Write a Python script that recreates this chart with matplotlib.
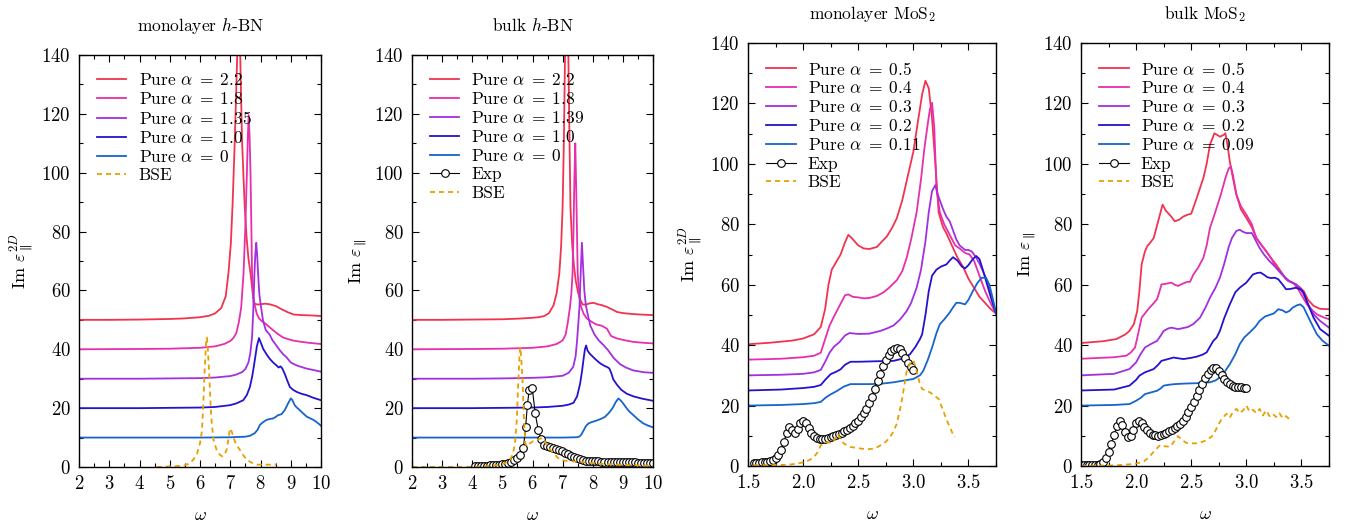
import numpy as np
import matplotlib
matplotlib.use('Agg')
import matplotlib.pyplot as plt
from matplotlib.ticker import MultipleLocator

plt.rcParams['font.family'] = 'serif'
plt.rcParams['font.serif'] = ['cmr10']
plt.rcParams['mathtext.fontset'] = 'cm'
plt.rcParams['axes.formatter.use_mathtext'] = True

# colours of the five "Pure" curves (largest alpha first), BSE
colors = ['#f2334f', '#e52fae', '#a22fe0', '#2512cf', '#1664cc']
bse_color = '#e8a000'

''' monolayer h-BN '''
hbn1_labels = ['2.2', '1.8', '1.35', '1.0', '0']
hbn1_x = [
    [2, 3, 4, 5, 5.5, 6, 6.3, 6.5, 6.7, 6.85, 6.94, 7.02, 7.08, 7.14, 7.19, 7.23, 7.27, 7.3, 7.33, 7.36,
     7.39, 7.44, 7.48, 7.54, 7.6, 7.67, 7.78, 7.9, 8.0, 8.15, 8.3, 8.5, 8.7, 8.9, 9.1, 9.4, 9.7, 10],
    [2, 4, 5, 6, 6.5, 6.8, 7.0, 7.1, 7.2, 7.28, 7.36, 7.44, 7.5, 7.55, 7.58, 7.61, 7.64, 7.67, 7.7, 7.72,
     7.76, 7.82, 7.88, 7.95, 8.05, 8.15, 8.3, 8.45, 8.6, 8.75, 8.9, 9.06, 9.3, 9.6, 10],
    [2, 4, 5, 6, 6.5, 7.0, 7.2, 7.4, 7.5, 7.6, 7.66, 7.72, 7.76, 7.8, 7.83, 7.86, 7.89, 7.92, 7.96, 8.0,
     8.08, 8.17, 8.3, 8.4, 8.53, 8.65, 8.75, 8.86, 9.0, 9.2, 9.5, 10],
    [2, 4, 5, 6, 6.5, 6.99, 7.2, 7.43, 7.55, 7.65, 7.73, 7.81, 7.88, 7.95, 8.02, 8.09, 8.2, 8.31, 8.42, 8.53,
     8.6, 8.66, 8.72, 8.8, 8.88, 8.97, 9.08, 9.2, 9.35, 9.53, 9.75, 10],
    [2, 4, 6, 7, 7.5, 7.65, 7.81, 7.9, 7.98, 8.08, 8.2, 8.3, 8.42, 8.5, 8.58, 8.65, 8.7, 8.8, 8.86, 8.91,
     8.96, 9.0, 9.05, 9.13, 9.2, 9.3, 9.4, 9.53, 9.65, 9.75, 9.85, 9.97, 10],
]
hbn1_y = [
    [50, 50, 50.1, 50.3, 50.5, 50.9, 51.4, 52.2, 54, 58, 65.8, 76, 90, 108, 125, 140, 150, 152, 140, 125,
     111, 98, 88.4, 78, 71, 65.8, 55.6, 55.2, 55.3, 55.5, 55.3, 54.7, 53.6, 52.6, 51.8, 51.6, 51.5, 51.3],
    [40, 40.1, 40.2, 40.5, 41, 41.8, 42.8, 43.8, 45.5, 49, 54, 66, 82, 99.8, 112, 119.6, 112, 99.8, 80, 66,
     58, 54.5, 52, 50.5, 49.5, 48.8, 47.5, 46.2, 45, 44, 43.5, 43, 42.6, 42.2, 41.8],
    [30, 30, 30.1, 30.2, 30.4, 30.9, 31.4, 32.3, 33.3, 35.5, 38.5, 44, 53, 65.8, 72.5, 76.2, 72, 65.8, 59, 55.6,
     50, 46.6, 45, 43, 41.2, 39.5, 38.3, 37.3, 35.5, 34.5, 33.5, 32.4],
    [20, 20, 20.1, 20.2, 20.4, 21, 21.6, 22.7, 24.5, 27.2, 31, 36.2, 41, 43.8, 42, 40.1, 38.3, 36.7, 35.5, 34.5,
     33.8, 34.2, 33.5, 31.7, 29.5, 27.2, 26.2, 25.5, 24.9, 24.4, 23.5, 22.7],
    [10, 10, 10, 10.1, 10.3, 10.6, 11.5, 12.6, 14.3, 15.2, 16, 16.3, 16.5, 17, 17.6, 17.8, 18, 19.3, 20.5, 21.6,
     22.5, 23.3, 22.8, 21, 20.2, 19.3, 18.3, 17.1, 16.5, 16, 15.3, 14.3, 14],
]
hbn1_bse_x = [4.57, 5.0, 5.45, 5.65, 5.78, 5.9, 6.0, 6.06, 6.1, 6.15, 6.2, 6.23, 6.26, 6.31, 6.35, 6.39, 6.45,
              6.55, 6.65, 6.74, 6.81, 6.88, 6.94, 6.99, 7.05, 7.1, 7.16, 7.24, 7.32, 7.43, 7.54, 7.7, 7.87, 8.2, 8.53]
hbn1_bse_y = [0, 0.2, 0.4, 1.2, 2.5, 4.5, 8.1, 12, 19.3, 32, 42, 44, 40, 30.6, 21, 14.8, 9,
              5.8, 4.2, 3.6, 4.2, 5.8, 9.5, 13.1, 12, 10.3, 8.5, 7, 5.8, 4, 2.5, 1.5, 0.8, 0.8, 0.8]

''' bulk h-BN '''
hbn2_labels = ['2.2', '1.8', '1.39', '1.0', '0']
hbn2_x = [
    [2, 3, 4, 5, 5.5, 6, 6.2, 6.39, 6.55, 6.7, 6.8, 6.89, 6.95, 7.0, 7.04, 7.08, 7.12, 7.15, 7.19, 7.23,
     7.26, 7.32, 7.38, 7.44, 7.52, 7.6, 7.67, 7.78, 7.89, 8.02, 8.17, 8.3, 8.47, 8.65, 8.8, 9.0, 9.3, 9.6, 10],
    [2, 4, 5, 6, 6.5, 6.8, 7.0, 7.1, 7.17, 7.24, 7.29, 7.33, 7.36, 7.39, 7.42, 7.45, 7.48, 7.5, 7.55, 7.61,
     7.7, 7.8, 7.94, 8.1, 8.3, 8.47, 8.61, 8.8, 9.0, 9.35, 9.7, 10],
    [2, 4, 5, 6, 6.5, 7.0, 7.2, 7.35, 7.43, 7.48, 7.53, 7.56, 7.6, 7.64, 7.68, 7.72, 7.77, 7.83, 7.92, 8.06,
     8.2, 8.35, 8.5, 8.7, 8.9, 9.1, 9.35, 9.7, 10],
    [2, 4, 5, 6, 6.5, 7.0, 7.2, 7.36, 7.48, 7.58, 7.65, 7.69, 7.74, 7.78, 7.83, 7.9, 7.96, 8.1, 8.25, 8.4,
     8.47, 8.55, 8.62, 8.68, 8.8, 8.95, 9.13, 9.35, 9.65, 10],
    [2, 4, 6, 7, 7.45, 7.55, 7.62, 7.7, 7.78, 7.86, 7.95, 8.1, 8.24, 8.4, 8.52, 8.6, 8.68, 8.76, 8.85, 8.93,
     9.01, 9.1, 9.2, 9.35, 9.5, 9.68, 9.85, 10],
]
hbn2_y = [
    [50, 50, 50.1, 50.2, 50.4, 50.7, 50.9, 51.3, 52.3, 55, 59, 65.8, 75, 88.4, 110, 140, 155, 150, 140, 110,
     88.4, 75, 68, 63, 59, 56.5, 55.2, 55.2, 55.6, 55.8, 55.3, 55, 54.4, 53.5, 52.7, 52.3, 52, 51.8, 51.6],
    [40, 40.1, 40.2, 40.5, 41, 41.8, 43, 45, 49, 54, 59, 65.8, 80, 98, 110, 95, 78, 65.8, 58, 54.5,
     52, 50.5, 49.5, 48.5, 48, 47, 44.5, 43.7, 43.2, 42.5, 42.2, 42],
    [30, 30, 30.1, 30.3, 30.5, 31, 32, 34, 37.5, 43, 50, 54.5, 66, 76.2, 68, 60, 55, 52, 48, 45,
     43, 41.5, 39.8, 37, 35, 33.8, 32.8, 32.2, 32],
    [20, 20, 20.1, 20.2, 20.4, 20.8, 21.2, 21.8, 24, 28.3, 33, 36.3, 40, 41.3, 39.5, 38.5, 37.9, 36.5, 35.2, 34.3,
     34, 33.5, 31.8, 29.8, 28, 26.2, 24.9, 24, 23.2, 22.5],
    [10, 10, 10, 10, 10.1, 10.3, 11, 12.5, 14, 14.8, 15.2, 15.7, 16.2, 17, 18.2, 19.2, 20.4, 22, 23.3, 22.6,
     21.6, 20.3, 19, 17.6, 16.2, 14.8, 14, 13.5],
]
hbn2_bse_x = [2, 3, 4.04, 4.5, 4.93, 5.1, 5.26, 5.35, 5.42, 5.48, 5.53, 5.57, 5.59, 5.62, 5.67, 5.72, 5.76,
              5.82, 5.92, 6.02, 6.14, 6.31, 6.4, 6.47, 6.58, 6.7, 6.8, 6.92, 7.1, 7.36, 7.8, 8.24, 9.0, 10]
hbn2_bse_y = [0, 0, 0, 0.3, 0.8, 1.4, 2.5, 4.5, 8.1, 16, 29.4, 38, 40.7, 38, 29.4, 16, 8.1,
              7, 8.1, 8.8, 9.2, 9.8, 9.1, 7.5, 6, 4.7, 3.5, 2.5, 2.1, 1.9, 1.5, 1.1, 0.7, 0.4]
hbn2_exp_x = [4.1, 4.2, 4.3, 4.4, 4.5, 4.6, 4.7, 4.8, 4.9, 5.0, 5.1, 5.2, 5.3, 5.4, 5.5, 5.6, 5.7,
              5.77, 5.83, 5.89,
              5.99, 6.09, 6.19, 6.29, 6.39, 6.49, 6.59, 6.69, 6.79, 6.89,
              6.99, 7.09, 7.19, 7.29, 7.39, 7.49, 7.59, 7.69, 7.79, 7.89,
              7.99, 8.09, 8.19, 8.29, 8.39, 8.49, 8.59, 8.69, 8.79, 8.89,
              8.99, 9.09, 9.19, 9.29, 9.39, 9.49, 9.59, 9.69, 9.79, 9.89, 9.99]
hbn2_exp_y = [0.4, 0.4, 0.4, 0.5, 0.5, 0.6, 0.6, 0.7, 0.8, 0.9, 1.1, 1.4, 1.8, 2.3, 3.0, 4.2, 6.5,
              13.5, 21.0, 26.3,
              27.0, 18.2, 12.6, 9.4, 7.6, 7.0, 6.8, 6.5, 6.2, 5.8,
              5.3, 4.8, 4.3, 3.8, 3.3, 2.9, 2.6, 2.4, 2.2, 2.1,
              2.0, 1.9, 1.9, 1.8, 1.8, 1.7, 1.7, 1.7, 1.7, 1.6,
              1.6, 1.6, 1.6, 1.6, 1.6, 1.5, 1.5, 1.5, 1.5, 1.5, 1.5]

''' monolayer MoS2 '''
mos1_labels = ['0.5', '0.4', '0.3', '0.2', '0.11']
mos1_x = [
    [1.5, 1.7, 1.9, 2.0, 2.1, 2.16, 2.2, 2.23, 2.26, 2.3, 2.34, 2.38, 2.41, 2.44, 2.5, 2.55, 2.6, 2.67, 2.72, 2.76,
     2.81, 2.85, 2.9, 2.95, 3.0, 3.05, 3.08, 3.11, 3.14, 3.17, 3.2, 3.23, 3.27, 3.3, 3.35, 3.4, 3.45, 3.5, 3.55,
     3.6, 3.65, 3.7, 3.75],
    [1.5, 1.8, 2.0, 2.1, 2.16, 2.2, 2.24, 2.28, 2.33, 2.38, 2.41, 2.45, 2.5, 2.55, 2.6, 2.67, 2.73, 2.78, 2.85,
     2.9, 2.94, 2.98, 3.03, 3.07, 3.1, 3.13, 3.15, 3.17, 3.19, 3.21, 3.24, 3.28, 3.33, 3.38, 3.42, 3.47, 3.51,
     3.55, 3.6, 3.65, 3.7, 3.75],
    [1.5, 1.8, 2.0, 2.1, 2.16, 2.2, 2.24, 2.28, 2.33, 2.38, 2.42, 2.5, 2.6, 2.7, 2.76, 2.82, 2.88, 2.94, 2.98,
     3.03, 3.07, 3.11, 3.14, 3.17, 3.2, 3.22, 3.24, 3.27, 3.3, 3.33, 3.36, 3.39, 3.42, 3.47, 3.5, 3.53, 3.57,
     3.6, 3.65, 3.7, 3.75],
    [1.5, 1.8, 2.0, 2.1, 2.16, 2.2, 2.25, 2.3, 2.34, 2.38, 2.43, 2.5, 2.6, 2.7, 2.82, 2.9, 2.97, 3.02, 3.06,
     3.08, 3.11, 3.14, 3.17, 3.21, 3.25, 3.3, 3.33, 3.36, 3.4, 3.44, 3.47, 3.5, 3.54, 3.57, 3.6, 3.63, 3.67,
     3.71, 3.75],
    [1.5, 1.8, 2.0, 2.1, 2.16, 2.2, 2.24, 2.31, 2.37, 2.43, 2.5, 2.6, 2.7, 2.82, 2.9, 3.0, 3.06, 3.09, 3.13,
     3.17, 3.21, 3.24, 3.28, 3.33, 3.36, 3.39, 3.42, 3.47, 3.5, 3.54, 3.58, 3.62, 3.66, 3.69, 3.72, 3.75],
]
mos1_y = [
    [40.3, 40.8, 41.5, 42.2, 43.6, 46, 52, 60, 65, 67.5, 70, 74, 76.5, 75.5, 73, 72, 71.8, 72.5, 74.5, 76,
     79, 82, 88, 96, 104, 116, 123, 127.5, 125, 115, 100, 83.8, 79, 77, 73, 69, 66, 62, 59,
     56, 54, 52, 50.5],
    [35.2, 35.5, 36, 36.5, 37.5, 42, 46.5, 49.5, 53, 56.5, 56.8, 56, 55.8, 55.5, 55.6, 56.3, 57.5, 59, 61.5,
     64.5, 69, 75, 84, 95, 105, 113, 118, 120.2, 112, 92, 84, 80, 76.5, 73, 72, 70.5, 70,
     68, 63, 58, 54, 50.5],
    [30, 30.2, 30.5, 31, 31.8, 34.5, 37.5, 39.5, 41, 43.2, 44, 43.7, 43.8, 44.7, 45.5, 46.5, 48.5, 51.3, 54,
     59, 65, 74.4, 84, 91, 93, 90, 88, 85, 82.5, 81, 78, 75, 73, 71.5, 71.5, 71, 69,
     67, 63, 57, 50.5],
    [25, 25.3, 25.8, 26.2, 26.8, 28.5, 30.4, 31.2, 32, 33.5, 34.5, 34.5, 34.6, 34.7, 34.8, 35.5, 37, 39.5, 42,
     43.6, 50, 57.9, 63, 65, 66, 66.7, 68, 69.1, 68, 66, 65.4, 66.5, 68.5, 69.5, 68.5, 65, 60,
     55, 50.5],
    [20, 20.2, 20.5, 20.8, 21.2, 22.5, 23.5, 24.9, 26.3, 27.1, 27.1, 27.1, 27.2, 27.7, 28.2, 28.8, 30, 31.5, 35,
     39.2, 44, 46.9, 48.5, 50.8, 52.5, 54, 54, 53.5, 55, 57.9, 60.5, 62.3, 62.3, 60, 55.5, 50.5],
]
mos1_bse_x = [1.55, 1.7, 1.86, 1.95, 2.01, 2.06, 2.1, 2.13, 2.16, 2.19, 2.22, 2.26, 2.29, 2.31, 2.34, 2.37,
              2.43, 2.5, 2.58, 2.65, 2.7, 2.75, 2.79, 2.82, 2.85, 2.89, 2.92, 2.94, 2.97, 3.0, 3.03, 3.06,
              3.08, 3.12, 3.15, 3.19, 3.23, 3.27, 3.3, 3.33, 3.36, 3.38]
mos1_bse_y = [0.2, 0.3, 0.4, 0.8, 1.3, 2, 3, 4.5, 6.8, 7.6, 7.9, 7.6, 9, 10.7, 9, 7.4,
              6.3, 5.9, 5.5, 5.8, 6.8, 8, 9.6, 11.5, 14, 20.5, 27, 31.5, 34, 35, 31.5, 27,
              25.5, 24.8, 24.4, 23.3, 22.2, 18.4, 15.5, 12.9, 10.5, 9.6]
mos1_exp_x = [1.55, 1.575, 1.6, 1.625, 1.65, 1.675, 1.7, 1.725, 1.75, 1.775,
              1.8, 1.825, 1.85, 1.875, 1.9, 1.925, 1.95, 1.975, 2.0, 2.025,
              2.05, 2.075, 2.1, 2.125, 2.15, 2.175, 2.2, 2.225, 2.25, 2.275,
              2.3, 2.325, 2.35, 2.375, 2.4, 2.425, 2.45, 2.475, 2.5, 2.525,
              2.55, 2.575, 2.6, 2.625, 2.65, 2.675, 2.7, 2.725, 2.75, 2.775,
              2.8, 2.825, 2.85, 2.875, 2.9, 2.925, 2.95, 2.975, 3.0]
mos1_exp_y = [1.0, 1.0, 1.1, 1.2, 1.3, 1.4, 1.6, 2.0, 2.6, 3.6,
              5.2, 7.8, 11.0, 13.0, 11.8, 11.0, 12.2, 14.2, 15.0, 14.3,
              12.6, 10.8, 9.8, 9.3, 9.0, 8.9, 9.0, 9.2, 9.5, 9.8,
              10.2, 10.6, 11.0, 11.5, 12.0, 12.6, 13.3, 14.1, 15.0, 16.1,
              17.4, 19.0, 20.8, 23.0, 25.5, 28.0, 30.5, 33.0, 35.0, 36.8,
              38.0, 38.8, 39.2, 38.8, 37.5, 35.8, 34.2, 32.8, 31.8]

''' bulk MoS2 '''
mos2_labels = ['0.5', '0.4', '0.3', '0.2', '0.09']
mos2_x = [
    [1.5, 1.7, 1.82, 1.9, 1.94, 1.98, 2.01, 2.03, 2.05, 2.08, 2.1, 2.13, 2.16, 2.2, 2.24, 2.27, 2.29, 2.32, 2.35,
     2.39, 2.43, 2.47, 2.5, 2.55, 2.58, 2.61, 2.64, 2.67, 2.71, 2.74, 2.76, 2.79, 2.81, 2.83, 2.85, 2.88, 2.91,
     2.95, 3.0, 3.05, 3.09, 3.14, 3.18, 3.23, 3.27, 3.32, 3.36, 3.4, 3.45, 3.49, 3.52, 3.56, 3.61, 3.67, 3.75],
    [1.5, 1.8, 1.91, 1.95, 1.99, 2.02, 2.05, 2.08, 2.11, 2.15, 2.19, 2.21, 2.23, 2.27, 2.32, 2.35, 2.38, 2.42,
     2.46, 2.49, 2.52, 2.56, 2.61, 2.64, 2.67, 2.7, 2.73, 2.77, 2.81, 2.84, 2.86, 2.88, 2.91, 2.95, 3.0, 3.05,
     3.09, 3.14, 3.18, 3.23, 3.27, 3.32, 3.38, 3.43, 3.47, 3.51, 3.55, 3.6, 3.64, 3.7, 3.75],
    [1.5, 1.8, 1.94, 2.0, 2.04, 2.08, 2.13, 2.19, 2.22, 2.25, 2.29, 2.32, 2.38, 2.42, 2.47, 2.52, 2.58, 2.63,
     2.67, 2.72, 2.76, 2.8, 2.84, 2.87, 2.91, 2.94, 2.97, 3.0, 3.05, 3.08, 3.12, 3.16, 3.21, 3.26, 3.3, 3.35,
     3.39, 3.45, 3.49, 3.52, 3.56, 3.61, 3.67, 3.75],
    [1.5, 1.8, 1.94, 2.0, 2.03, 2.08, 2.16, 2.2, 2.23, 2.28, 2.34, 2.39, 2.43, 2.5, 2.55, 2.6, 2.64, 2.67, 2.7,
     2.73, 2.76, 2.8, 2.85, 2.9, 2.94, 3.0, 3.06, 3.1, 3.13, 3.16, 3.19, 3.22, 3.26, 3.29, 3.33, 3.36, 3.4,
     3.45, 3.49, 3.52, 3.56, 3.61, 3.67, 3.75],
    [1.5, 1.8, 1.94, 2.0, 2.04, 2.08, 2.13, 2.19, 2.22, 2.25, 2.3, 2.35, 2.45, 2.55, 2.67, 2.72, 2.76, 2.8, 2.85,
     2.9, 2.94, 2.98, 3.03, 3.08, 3.12, 3.17, 3.21, 3.25, 3.29, 3.33, 3.36, 3.39, 3.42, 3.46, 3.49, 3.52, 3.55,
     3.6, 3.64, 3.69, 3.75],
]
mos2_y = [
    [40.7, 41.3, 42, 43.5, 44.7, 47, 51.3, 58, 66.7, 71, 72.7, 74, 75.5, 81, 86.5, 84.5, 83.7, 82.5, 81,
     81.5, 82.6, 83.2, 83.5, 88.7, 92, 95.3, 100, 106.3, 110.1, 109.5, 109, 109.5, 110.1, 106, 100.8, 95, 89.8,
     85, 82.1, 79, 75.5, 73, 71.1, 68.5, 66.7, 64, 61.8, 61, 60.1, 59, 57.9, 55, 53, 52, 51.9],
    [35.5, 36, 36.5, 37.5, 39.2, 44, 49.1, 50.5, 51.9, 53.5, 55.2, 57.5, 60.1, 60.3, 60.7, 60, 59.6, 60.3,
     60.9, 61, 63.4, 65.5, 68.9, 73, 78.8, 82, 85.4, 90, 95.3, 98.5, 99.1, 96, 89.8, 86, 83.2, 80,
     75.5, 73, 71.1, 68.5, 65.6, 63.5, 61.2, 60.5, 58.5, 56, 53.5, 51.5, 50.2, 49.2, 48.6],
    [30, 30.5, 32.1, 34.3, 37, 39.2, 40.3, 41.4, 43, 44.7, 45.5, 45.8, 45.3, 45.6, 46, 47, 49.1, 52.5,
     55.7, 59, 62.3, 67, 72.5, 75.5, 77.8, 78.2, 77.5, 77.1, 77.1, 75, 72.2, 70, 67.8, 66, 64.5, 62.5,
     61.2, 60.1, 58.8, 56.8, 53.5, 50.2, 48, 45.8],
    [25, 25.3, 26.6, 28.5, 29.9, 31, 32.1, 33.5, 34.8, 35.3, 35.9, 35.6, 35.4, 35.8, 36.2, 36.8, 37.6, 39.5, 41.4,
     42.5, 44.7, 49, 53.5, 57.5, 59, 60.7, 63.4, 63.9, 64, 63.3, 62.5, 62.2, 62.3, 61.8, 60, 58.5, 58.6,
     59, 58.5, 57.4, 53.5, 49.1, 45.3, 43.1],
    [20, 20.2, 20.5, 21.6, 22.5, 23.8, 24.3, 24.9, 25.6, 26.6, 26.9, 27.1, 27.3, 27.4, 27.7, 28.3, 29.3, 31, 33.7,
     37, 40.3, 42.5, 44.2, 46, 48, 49.5, 50, 50.5, 51.9, 51.5, 50.8, 51.3, 52.4, 53.2, 53.5, 52.5, 50.2,
     46.5, 43.6, 41.5, 39.8],
]
mos2_bse_x = [1.5, 1.82, 1.95, 2.0, 2.07, 2.12, 2.16, 2.22, 2.26, 2.31, 2.34, 2.38, 2.42, 2.46, 2.5, 2.55,
              2.6, 2.64, 2.7, 2.73, 2.77, 2.8, 2.82, 2.85, 2.88, 2.91, 2.94, 2.97, 3.0, 3.03, 3.06, 3.09,
              3.12, 3.15, 3.18, 3.21, 3.24, 3.27, 3.3, 3.33, 3.36, 3.39]
mos2_bse_y = [0, 0.2, 0.6, 0.8, 1.5, 3, 4.8, 7, 6.5, 6.4, 7.9, 9.9, 8.5, 7.6, 7.5, 7.5,
              8, 8.5, 10.2, 12.5, 15.2, 16.5, 17.3, 16, 18, 18.9, 17.5, 18.4, 20, 18, 18.6, 17.5,
              18.9, 16.7, 18.4, 16.5, 17.3, 16.2, 17.5, 15.8, 16.5, 15.5]
mos2_exp_x = [1.5, 1.525, 1.55, 1.575, 1.6, 1.625, 1.65, 1.675, 1.7, 1.725,
              1.75, 1.775, 1.8, 1.825, 1.85, 1.875, 1.9, 1.925, 1.95, 1.975,
              2.0, 2.025, 2.05, 2.075, 2.1, 2.125, 2.15, 2.175, 2.2, 2.225,
              2.25, 2.275, 2.3, 2.325, 2.35, 2.375, 2.4, 2.425, 2.45, 2.475,
              2.5, 2.525, 2.55, 2.575, 2.6, 2.625, 2.65, 2.675, 2.7, 2.725,
              2.75, 2.775, 2.8, 2.825, 2.85, 2.875, 2.9, 2.925, 2.95, 2.975, 3.0]
mos2_exp_y = [0.2, 0.2, 0.2, 0.3, 0.3, 0.3, 0.4, 0.6, 1.2, 2.6,
              4.6, 7.2, 10.2, 13.2, 14.8, 13.6, 11.2, 9.6, 9.8, 12.0,
              14.3, 15.0, 14.3, 13.0, 11.9, 11.0, 10.4, 10.1, 10.0, 10.2,
              10.5, 11.0, 11.5, 12.0, 12.5, 13.2, 14.0, 15.0, 16.3, 17.8,
              19.5, 21.3, 23.2, 25.2, 27.2, 29.0, 30.6, 31.8, 32.4, 32.3,
              31.5, 30.2, 28.8, 27.8, 27.0, 26.6, 26.3, 26.1, 26.0, 25.9, 25.8]

titles = ['monolayer $h$-BN', 'bulk $h$-BN', 'monolayer MoS$_2$', 'bulk MoS$_2$']
ylabels = [r'Im $\varepsilon_{\parallel}^{2D}$', r'Im $\varepsilon_{\parallel}$',
           r'Im $\varepsilon_{\parallel}^{2D}$', r'Im $\varepsilon_{\parallel}$']

W, H = 1347, 526
fig = plt.figure(figsize=(W / 100, H / 100), dpi=100)

# axes boxes in pixels: left, top, right, bottom
boxes = [(79, 55, 321, 467), (412, 55, 653, 467), (748, 43, 996, 466), (1081, 43, 1329, 466)]
panels = [
    (hbn1_x, hbn1_y, hbn1_labels, hbn1_bse_x, hbn1_bse_y, None, None, (2, 10), 1, 0.5),
    (hbn2_x, hbn2_y, hbn2_labels, hbn2_bse_x, hbn2_bse_y, hbn2_exp_x, hbn2_exp_y, (2, 10), 1, 0.5),
    (mos1_x, mos1_y, mos1_labels, mos1_bse_x, mos1_bse_y, mos1_exp_x, mos1_exp_y, (1.5, 3.75), 0.5, 0.25),
    (mos2_x, mos2_y, mos2_labels, mos2_bse_x, mos2_bse_y, mos2_exp_x, mos2_exp_y, (1.5, 3.75), 0.5, 0.25),
]

for i, (xs, ys, labs, bx, by, ex, ey, xlim, xmaj, xmin) in enumerate(panels):
    l, t, r, b = boxes[i]
    ax = fig.add_axes([l / W, (H - b) / H, (r - l) / W, (b - t) / H])
    for k in range(5):
        ax.plot(xs[k], ys[k], color=colors[k], lw=1.3, label=r'Pure $\alpha\;=\;%s$' % labs[k])
    if ex is not None:
        ax.plot(ex, ey, color='black', lw=0.8, marker='o', ms=5.5, mfc='white', mec='black', mew=0.8,
                label='Exp')
    ax.plot(bx, by, color=bse_color, lw=1.3, ls=(0, (2.8, 2.2)), label='BSE')
    ax.set_xlim(*xlim)
    ax.set_ylim(0, 140)
    ax.xaxis.set_major_locator(MultipleLocator(xmaj))
    ax.xaxis.set_minor_locator(MultipleLocator(xmin))
    ax.yaxis.set_major_locator(MultipleLocator(20))
    ax.yaxis.set_minor_locator(MultipleLocator(10))
    ax.tick_params(which='both', direction='in', top=True, right=True, labelsize=13.5, width=0.8, pad=6)
    ax.tick_params(which='major', length=5)
    ax.tick_params(which='minor', length=3)
    for s in ax.spines.values():
        s.set_linewidth(1.0)
    ax.set_title(titles[i], fontsize=12.5, pad=17)
    ax.set_xlabel(r'$\omega$', fontsize=13, labelpad=10)
    ax.set_ylabel(ylabels[i], fontsize=13)
    ax.legend(loc='upper left', bbox_to_anchor=(0.045, 0.975), borderaxespad=0, frameon=False,
              fontsize=12.5, handlelength=1.7, handletextpad=0.7, labelspacing=0.17)

fig.savefig('out.png', dpi=100)
